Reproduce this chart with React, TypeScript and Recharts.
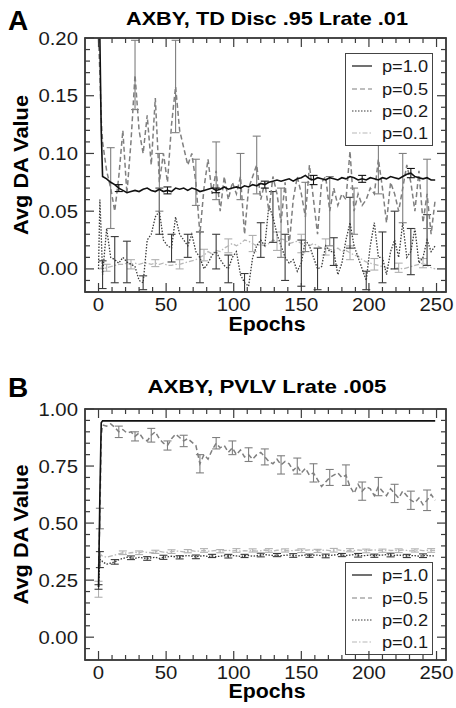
import React from "react";
import { LineChart, Line, XAxis, YAxis, ErrorBar, Legend } from "recharts";

// epochs sampled every 3 (plus the first few for the initial transient)
const epochs = [
  0, 1, 2, 3, 6, 9, 12, 15, 18, 21,
  24, 27, 30, 33, 36, 39, 42, 45, 48, 51,
  54, 57, 60, 63, 66, 69, 72, 75, 78, 81,
  84, 87, 90, 93, 96, 99, 102, 105, 108, 111,
  114, 117, 120, 123, 126, 129, 132, 135, 138, 141,
  144, 147, 150, 153, 156, 159, 162, 165, 168, 171,
  174, 177, 180, 183, 186, 189, 192, 195, 198, 201,
  204, 207, 210, 213, 216, 219, 222, 225, 228, 231,
  234, 237, 240, 243, 246, 249,
];

// ---- panel A: TD ----
const a10 = [
  0.2, 0.2, 0.12, 0.08, 0.078, 0.075, 0.073, 0.07, 0.068, 0.066,
  0.067, 0.068, 0.067, 0.069, 0.07, 0.068, 0.067, 0.069, 0.067, 0.068,
  0.067, 0.07, 0.069, 0.07, 0.068, 0.07, 0.069, 0.067, 0.068, 0.069,
  0.07, 0.068, 0.069, 0.071, 0.069, 0.07, 0.071, 0.07, 0.072, 0.071,
  0.073, 0.072, 0.074, 0.073, 0.075, 0.076, 0.077, 0.076, 0.077, 0.078,
  0.076, 0.078, 0.079, 0.081, 0.078, 0.077, 0.079, 0.078, 0.077, 0.079,
  0.078, 0.077, 0.079, 0.078, 0.08, 0.079, 0.077, 0.078, 0.077, 0.079,
  0.078, 0.077, 0.079, 0.078, 0.08, 0.079, 0.078, 0.08, 0.082, 0.083,
  0.08, 0.079, 0.078, 0.079, 0.077, 0.077,
];
const a05 = [
  0.2, 0.17, 0.13, 0.11, 0.085, 0.07, 0.05, 0.08, 0.12, 0.065,
  0.11, 0.168, 0.12, 0.1, 0.133, 0.09, 0.148, 0.075, 0.1, 0.075,
  0.125, 0.158, 0.12, 0.105, 0.09, 0.1, 0.075, 0.03, 0.07, 0.095,
  0.065, 0.085, 0.05, 0.08, 0.06, 0.075, 0.065, 0.08, 0.03, 0.07,
  0.08, 0.09, 0.06, 0.075, 0.05, 0.08, 0.065, 0.04, 0.075, 0.02,
  0.06, 0.08, 0.065, 0.045, 0.09, 0.06, 0.03, 0.075, 0.08, 0.05,
  0.07, 0.055, 0.065, 0.06, 0.102, 0.05, 0.065, 0.055, 0.06, 0.07,
  0.065, 0.095, 0.07, 0.04, 0.075, 0.065, 0.05, 0.07, 0.09, 0.075,
  0.05, 0.085, 0.04, 0.065, 0.03, 0.06,
];
const a02 = [
  0, 0.06, 0.03, -0.005, 0.035, 0.01, 0.008, 0.005, 0.01, 0.006,
  0.004, 0.002, -0.01, -0.012, 0.025, 0.03, 0.045, 0.05, 0.025, 0.02,
  0.018, 0.045, 0.03, 0.025, 0.02, 0.03, 0.015, 0.01, 0.0, 0.005,
  0.012, 0.015, 0.008, 0.003, 0.0, 0.01, 0.015, -0.005, -0.012, -0.015,
  0.01, 0.02, 0.025, 0.02, 0.055, 0.045, 0.03, 0.02, 0.01, 0.005,
  0.008, -0.002, 0.005, 0.025, 0.02, 0.01, 0.0, 0.002, 0.02, 0.015,
  0.015, -0.005, 0.005, 0.025, 0.04, 0.02, 0.01, 0.0, -0.01, 0.02,
  0.04, 0.01, 0.01, -0.005, 0.015, 0.025, 0.01, 0.04, 0.01, 0.015,
  0.035, 0.005, 0.01, 0.025, 0.015, 0.02,
];
const a01 = [
  0.0, 0.0, 0.001, 0.0, 0.001, 0.002, 0.003, 0.004, 0.004, 0.005,
  0.004, 0.005, 0.004, 0.005, 0.005, 0.004, 0.005, 0.004, 0.005, 0.003,
  0.003, 0.004, 0.004, 0.005, 0.006, 0.007, 0.008, 0.01, 0.012, 0.015,
  0.013, 0.016, 0.015, 0.018, 0.02, 0.022, 0.02, 0.022, 0.025, 0.024,
  0.022, 0.02, 0.021, 0.02, 0.022, 0.025, 0.024, 0.026, 0.025, 0.022,
  0.023, 0.024, 0.022, 0.021, 0.02, 0.022, 0.02, 0.018, 0.019, 0.017,
  0.016, 0.018, 0.015, 0.016, 0.014, 0.012, 0.011, 0.008, 0.006, 0.005,
  0.004, 0.003, 0.002, 0.001, 0.0, 0.0, 0.001, 0.0, 0.001, 0.002,
  0.003, 0.004, 0.005, 0.003, 0.001, 0.0,
];
// error bars, keyed by epoch
const errA10: Record<number, number> = { 15: 0.003, 51: 0.003, 87: 0.002, 123: 0.003, 159: 0.004, 195: 0.003, 231: 0.004 };
const errA05: Record<number, number> = {
  9: 0.035, 27: 0.03, 45: 0.025, 57: 0.04, 72: 0.02, 87: 0.025, 105: 0.02, 117: 0.025,
  135: 0.03, 153: 0.03, 171: 0.03, 189: 0.02, 207: 0.03, 225: 0.03, 243: 0.03,
};
const errA02: Record<number, number> = {
  3: 0.012, 12: 0.02, 21: 0.018, 33: 0.006, 45: 0.02, 54: 0.012, 66: 0.01, 75: 0.022, 87: 0.015,
  96: 0.012, 108: 0.008, 120: 0.015, 129: 0.022, 138: 0.02, 150: 0.02, 162: 0.018, 174: 0.012,
  186: 0.022, 198: 0.008, 210: 0.022, 219: 0.025, 231: 0.02, 243: 0.022,
};
const errA01: Record<number, number> = {
  6: 0.003, 24: 0.004, 42: 0.003, 60: 0.004, 78: 0.005, 96: 0.006, 114: 0.007, 132: 0.008,
  150: 0.008, 168: 0.007, 186: 0.006, 204: 0.005, 222: 0.004, 240: 0.004,
};

// ---- panel B: PVLV ----
const b10 = [
  0.22, 0.62, 0.94, 0.948, 0.948, 0.948, 0.948, 0.948, 0.948, 0.948,
  0.948, 0.948, 0.948, 0.948, 0.948, 0.948, 0.948, 0.948, 0.948, 0.948,
  0.948, 0.948, 0.948, 0.948, 0.948, 0.948, 0.948, 0.948, 0.948, 0.948,
  0.948, 0.948, 0.948, 0.948, 0.948, 0.948, 0.948, 0.948, 0.948, 0.948,
  0.948, 0.948, 0.948, 0.948, 0.948, 0.948, 0.948, 0.948, 0.948, 0.948,
  0.948, 0.948, 0.948, 0.948, 0.948, 0.948, 0.948, 0.948, 0.948, 0.948,
  0.948, 0.948, 0.948, 0.948, 0.948, 0.948, 0.948, 0.948, 0.948, 0.948,
  0.948, 0.948, 0.948, 0.948, 0.948, 0.948, 0.948, 0.948, 0.948, 0.948,
  0.948, 0.948, 0.948, 0.948, 0.948, 0.948,
];
const b05 = [
  0.3, 0.52, 0.88, 0.93, 0.925, 0.935, 0.92, 0.9, 0.91, 0.895,
  0.9, 0.88, 0.895, 0.87, 0.86, 0.885, 0.9, 0.87, 0.85, 0.84,
  0.87, 0.89, 0.875, 0.86, 0.87, 0.855, 0.84, 0.76, 0.8, 0.78,
  0.82, 0.85, 0.83, 0.84, 0.81, 0.83, 0.8, 0.82, 0.79, 0.8,
  0.78, 0.8, 0.81, 0.79, 0.77, 0.76, 0.78, 0.755, 0.77, 0.76,
  0.73, 0.75, 0.72, 0.74, 0.71, 0.72, 0.69, 0.66, 0.68, 0.7,
  0.71, 0.72, 0.7, 0.71, 0.66, 0.63, 0.67, 0.64, 0.66, 0.65,
  0.62, 0.66, 0.64, 0.62, 0.65, 0.63, 0.61, 0.64, 0.62, 0.6,
  0.59, 0.61, 0.58, 0.6, 0.625, 0.6,
];
const b02 = [
  0.22, 0.34, 0.34, 0.33, 0.32, 0.325, 0.33, 0.34, 0.345, 0.35,
  0.348, 0.345, 0.35, 0.347, 0.345, 0.348, 0.35, 0.345, 0.35, 0.352,
  0.355, 0.352, 0.35, 0.355, 0.358, 0.355, 0.352, 0.355, 0.357, 0.354,
  0.356, 0.353, 0.355, 0.357, 0.355, 0.358, 0.356, 0.354, 0.356, 0.358,
  0.355, 0.357, 0.36, 0.362, 0.36, 0.358, 0.36, 0.357, 0.359, 0.36,
  0.358, 0.356, 0.358, 0.36, 0.357, 0.359, 0.36, 0.357, 0.356, 0.358,
  0.36, 0.362, 0.36, 0.358, 0.36, 0.362, 0.359, 0.357, 0.358, 0.36,
  0.357, 0.359, 0.36, 0.362, 0.36, 0.358, 0.36, 0.357, 0.356, 0.358,
  0.357, 0.355, 0.357, 0.358, 0.356, 0.357,
];
const b01 = [
  0.21, 0.35, 0.36, 0.355, 0.35, 0.355, 0.36, 0.365, 0.37, 0.368,
  0.37, 0.372, 0.37, 0.375, 0.372, 0.37, 0.374, 0.376, 0.373, 0.372,
  0.375, 0.378, 0.376, 0.374, 0.377, 0.379, 0.376, 0.378, 0.38, 0.377,
  0.378, 0.38, 0.377, 0.379, 0.381, 0.378, 0.38, 0.377, 0.379, 0.378,
  0.38, 0.377, 0.379, 0.382, 0.38, 0.378, 0.381, 0.383, 0.38, 0.378,
  0.38, 0.382, 0.379, 0.381, 0.383, 0.38, 0.378, 0.38, 0.382, 0.379,
  0.381, 0.383, 0.38, 0.378, 0.381, 0.379, 0.382, 0.38, 0.378, 0.381,
  0.383, 0.38, 0.379, 0.382, 0.38, 0.381, 0.379, 0.382, 0.38, 0.378,
  0.38, 0.382, 0.379, 0.381, 0.38, 0.38,
];
const errB10: Record<number, number> = {};
const errB05: Record<number, number> = {
  1: 0.045, 15: 0.025, 27: 0.02, 39: 0.03, 51: 0.02, 63: 0.025, 75: 0.04, 87: 0.025, 99: 0.03,
  111: 0.03, 123: 0.035, 135: 0.04, 147: 0.035, 159: 0.04, 171: 0.035, 183: 0.045, 195: 0.04,
  207: 0.04, 219: 0.04, 231: 0.04, 243: 0.045,
};
const errB02: Record<number, number> = {
  0: 0.01, 1: 0.035, 12: 0.01, 24: 0.008, 36: 0.008, 48: 0.009, 60: 0.007, 72: 0.008, 84: 0.007,
  96: 0.008, 108: 0.007, 120: 0.008, 132: 0.007, 144: 0.008, 156: 0.007, 168: 0.008, 180: 0.007,
  192: 0.008, 204: 0.007, 216: 0.008, 228: 0.007, 240: 0.008,
};
const errB01: Record<number, number> = {
  0: 0.035, 18: 0.008, 30: 0.008, 42: 0.007, 54: 0.008, 66: 0.007, 78: 0.008, 90: 0.007, 102: 0.008,
  114: 0.007, 126: 0.008, 138: 0.007, 150: 0.008, 162: 0.007, 174: 0.008, 186: 0.007, 198: 0.008,
  210: 0.007, 222: 0.008, 234: 0.007, 246: 0.008,
};

const xTicks = [0, 10, 20, 30, 40, 50, 60, 70, 80, 90, 100, 110, 120, 130, 140, 150, 160, 170, 180, 190, 200, 210, 220, 230, 240, 250];
const xMajors = [0, 50, 100, 150, 200, 250];
const yTicksA = [-0.02, -0.01, 0, 0.01, 0.02, 0.03, 0.04, 0.05, 0.06, 0.07, 0.08, 0.09, 0.1, 0.11, 0.12, 0.13, 0.14, 0.15, 0.16, 0.17, 0.18, 0.19, 0.2];
const yMajorsA = [0, 0.05, 0.1, 0.15, 0.2];
const yTicksB = [-0.1, -0.05, 0, 0.05, 0.1, 0.15, 0.2, 0.25, 0.3, 0.35, 0.4, 0.45, 0.5, 0.55, 0.6, 0.65, 0.7, 0.75, 0.8, 0.85, 0.9, 0.95, 1];
const yMajorsB = [0, 0.25, 0.5, 0.75, 1];

const rowsA = epochs.map((epoch, i) => ({
  epoch, p10: a10[i], p05: a05[i], p02: a02[i], p01: a01[i],
  e10: errA10[epoch], e05: errA05[epoch], e02: errA02[epoch], e01: errA01[epoch],
}));
const rowsB = epochs.map((epoch, i) => ({
  epoch, p10: b10[i], p05: b05[i], p02: b02[i], p01: b01[i],
  e10: errB10[epoch], e05: errB05[epoch], e02: errB02[epoch], e01: errB01[epoch],
}));

const SERIES = [
  { key: "p10", err: "e10", name: "p=1.0", color: "#111111", dash: undefined, width: 1.6 },
  { key: "p05", err: "e05", name: "p=0.5", color: "#7f7f7f", dash: "5 3", width: 1.5 },
  { key: "p02", err: "e02", name: "p=0.2", color: "#3a3a3a", dash: "1.5 1.5", width: 1.3 },
  { key: "p01", err: "e01", name: "p=0.1", color: "#b8b8b8", dash: "5 2 1.5 2", width: 1.3 },
];

const FONT = '"Liberation Sans", Arial, Helvetica, sans-serif';
const FRAME_COLOR = "#3c3c3c";
const INK = "#1a1a1a";
const X_DOMAIN: [number, number] = [-10, 257];
const W = 456;
const LEFT = 85;
const RIGHT = 446;
const BOTTOM_GAP = 48;
const AXIS_LINE = { stroke: FRAME_COLOR, strokeWidth: 1.5 };

const near = (list: number[], v: number) => list.some((m) => Math.abs(m - v) < 1e-6);
const numW = (s: string, size: number) => {
  let w = 0;
  for (const c of s) w += c === "." ? 0.278 : c === "-" ? 0.333 : 0.556;
  return w * size * 1.13;
};

const xLabel = (props: any) => {
  const { x, y, payload } = props;
  if (!near(xMajors, payload.value)) return <g />;
  const label = String(payload.value);
  return (
    <text x={x} y={y + 19} textAnchor="middle" fontSize={18} fontFamily={FONT} fill={INK}
      textLength={numW(label, 18)} lengthAdjust="spacingAndGlyphs">
      {label}
    </text>
  );
};

const yLabel = (majors: number[]) => (props: any) => {
  const { x, y, payload } = props;
  if (!near(majors, payload.value)) return <g />;
  const label = Number(payload.value).toFixed(2);
  return (
    <text x={x - 7} y={y + 6.5} textAnchor="end" fontSize={18} fontFamily={FONT} fill={INK}
      textLength={numW(label, 18)} lengthAdjust="spacingAndGlyphs">
      {label}
    </text>
  );
};

function LegendBox() {
  const rowsY = [13, 36, 58, 80];
  return (
    <svg width={88} height={93} style={{ display: "block" }}>
      <rect x={0.5} y={0.5} width={87} height={92} fill="#fff" stroke="#444" strokeWidth={1} />
      {SERIES.map((s, i) => (
        <g key={s.key}>
          <line x1={7} x2={27} y1={rowsY[i]} y2={rowsY[i]} stroke={s.color} strokeWidth={1.2} strokeDasharray={s.dash} />
          <text x={37} y={rowsY[i] + 6} fontSize={16} fontFamily={FONT} fill={INK}
            textLength={46} lengthAdjust="spacingAndGlyphs">
            {s.name}
          </text>
        </g>
      ))}
    </svg>
  );
}

// box and inward tick marks as filled rectangles, same linear mapping as the chart's plot box
function BoxMarks({ top, bottom, yDomain, yTicks, yMajors }: {
  top: number; bottom: number; yDomain: [number, number]; yTicks: number[]; yMajors: number[];
}) {
  const px = (v: number) => LEFT + ((v - X_DOMAIN[0]) / (X_DOMAIN[1] - X_DOMAIN[0])) * (RIGHT - LEFT);
  const py = (v: number) => bottom - ((v - yDomain[0]) / (yDomain[1] - yDomain[0])) * (bottom - top);
  const t = 1.5;
  const tk = 1.2;
  return (
    <g fill={FRAME_COLOR}>
      <rect x={LEFT - t / 2} y={top - t / 2} width={RIGHT - LEFT + t} height={t} />
      <rect x={LEFT - t / 2} y={bottom - t / 2} width={RIGHT - LEFT + t} height={t} />
      <rect x={LEFT - t / 2} y={top - t / 2} width={t} height={bottom - top + t} />
      <rect x={RIGHT - t / 2} y={top - t / 2} width={t} height={bottom - top + t} />
      {xTicks.map((v) => {
        const len = near(xMajors, v) ? 9 : 5;
        const x = px(v) - tk / 2;
        return (
          <g key={`x${v}`}>
            <rect x={x} y={bottom - len} width={tk} height={len} />
            <rect x={x} y={top} width={tk} height={len} />
          </g>
        );
      })}
      {yTicks.map((v) => {
        const len = near(yMajors, v) ? 9 : 5;
        const y = py(v) - tk / 2;
        return (
          <g key={`y${v}`}>
            <rect x={LEFT} y={y} width={len} height={tk} />
            <rect x={RIGHT - len} y={y} width={len} height={tk} />
          </g>
        );
      })}
    </g>
  );
}

type PanelProps = {
  letter: string;
  title: string;
  titleLen: number;
  rows: any[];
  height: number;
  top: number;
  yDomain: [number, number];
  yTicks: number[];
  yMajors: number[];
  legendTop: number;
  titleY: number;
  letterY: number;
  epochsY: number;
};

function Panel(p: PanelProps) {
  const plotTop = p.top;
  const plotBottom = p.height - BOTTOM_GAP;
  const yMid = (plotTop + plotBottom) / 2;
  return (
    <div style={{ position: "relative", width: W, height: p.height }}>
      <LineChart width={W} height={p.height} data={p.rows}
        margin={{ top: p.top - 1, right: W - RIGHT - 1, bottom: BOTTOM_GAP - 1, left: LEFT - 1 }}>
        <XAxis dataKey="epoch" type="number" domain={X_DOMAIN} allowDataOverflow ticks={xTicks} interval={0}
          height={1} tickSize={0} tickMargin={0} tickLine={false} axisLine={AXIS_LINE} tick={xLabel} />
        <XAxis xAxisId="top" orientation="top" type="number" domain={X_DOMAIN} allowDataOverflow ticks={xTicks}
          interval={0} height={1} tickLine={false} axisLine={AXIS_LINE} tick={false} />
        <YAxis type="number" domain={p.yDomain} allowDataOverflow ticks={p.yTicks} interval={0} width={1}
          tickSize={0} tickMargin={0} tickLine={false} axisLine={AXIS_LINE} tick={yLabel(p.yMajors)} />
        <YAxis yAxisId="right" orientation="right" type="number" domain={p.yDomain} allowDataOverflow
          ticks={p.yTicks} interval={0} width={1} tickLine={false} axisLine={AXIS_LINE} tick={false} />
        {[...SERIES].reverse().map((s) => (
          <Line key={s.key} dataKey={s.key} type="linear" stroke={s.color} strokeWidth={s.width}
            strokeDasharray={s.dash} dot={false} activeDot={false} isAnimationActive={false}>
            <ErrorBar dataKey={s.err} width={4} stroke={s.color === "#b8b8b8" ? "#b0b0b0" : s.color}
              strokeWidth={1.1} direction="y" isAnimationActive={false} />
          </Line>
        ))}
        <Legend layout="horizontal" verticalAlign="middle" align="center" width={88} height={93}
          wrapperStyle={{ left: 345, top: p.legendTop, width: 88, height: 93 }}
          content={() => <LegendBox />} />
      </LineChart>
      <svg width={W} height={p.height} style={{ position: "absolute", left: 0, top: 0, pointerEvents: "none", zIndex: 6 }}>
        <BoxMarks top={plotTop} bottom={plotBottom} yDomain={p.yDomain} yTicks={p.yTicks} yMajors={p.yMajors} />
        <text x={8} y={p.letterY} fontSize={28} fontWeight="bold" fontFamily={FONT} fill="#000">
          {p.letter}
        </text>
        <text x={267} y={p.titleY} textAnchor="middle" fontSize={19} fontWeight="bold" fontFamily={FONT} fill="#000"
          textLength={p.titleLen} lengthAdjust="spacingAndGlyphs">
          {p.title}
        </text>
        <text x={267} y={p.epochsY} textAnchor="middle" fontSize={20} fontWeight="bold" fontFamily={FONT} fill="#000"
          textLength={77} lengthAdjust="spacingAndGlyphs">
          Epochs
        </text>
        <text x={28} y={yMid} transform={`rotate(-90 28 ${yMid})`} textAnchor="middle" fontSize={20}
          fontWeight="bold" fontFamily={FONT} fill="#000" textLength={140} lengthAdjust="spacingAndGlyphs">
          Avg DA Value
        </text>
      </svg>
    </div>
  );
}

export default function App() {
  return (
    <div style={{ position: "absolute", left: 0, top: 0, width: 456, height: 708, background: "#fff" }}>
      <Panel letter="A" title="AXBY, TD Disc .95 Lrate .01" titleLen={282} rows={rowsA} height={340} top={38}
        yDomain={[-0.02, 0.2]} yTicks={yTicksA} yMajors={yMajorsA} legendTop={53}
        titleY={25} letterY={30} epochsY={331} />
      <Panel letter="B" title="AXBY, PVLV Lrate .005" titleLen={239} rows={rowsB} height={368} top={69}
        yDomain={[-0.1, 1]} yTicks={yTicksB} yMajors={yMajorsB} legendTop={222}
        titleY={53} letterY={57} epochsY={358} />
    </div>
  );
}
